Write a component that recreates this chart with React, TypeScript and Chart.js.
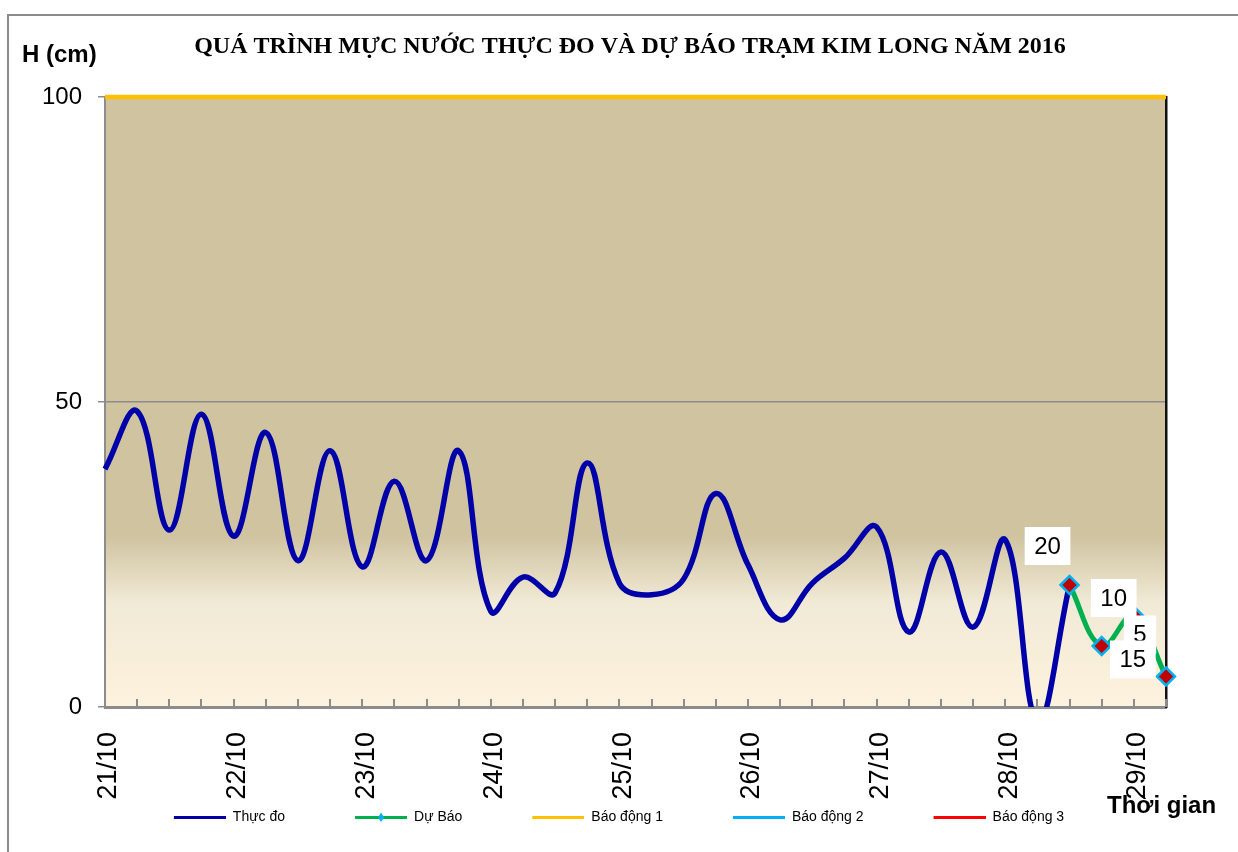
import React, { useEffect, useRef } from 'react';
import { Chart, registerables } from 'chart.js';

Chart.register(...registerables);

// ---------- DATA ----------
const categories = [
  '21/10 00h', '21/10 06h', '21/10 12h', '21/10 18h',
  '22/10 00h', '22/10 06h', '22/10 12h', '22/10 18h',
  '23/10 00h', '23/10 06h', '23/10 12h', '23/10 18h',
  '24/10 00h', '24/10 06h', '24/10 12h', '24/10 18h',
  '25/10 00h', '25/10 06h', '25/10 12h', '25/10 18h',
  '26/10 00h', '26/10 06h', '26/10 12h', '26/10 18h',
  '27/10 00h', '27/10 06h', '27/10 12h', '27/10 18h',
  '28/10 00h', '28/10 06h', '28/10 12h', '28/10 18h',
  '29/10 00h', '29/10 06h',
];

// Thực đo (measured), cm
const observed = [
  39, 48.5, 29, 48, 28, 45, 24, 42,
  23, 37, 24, 42, 15.7, 21.3, 18.7, 40,
  20.3, 18.4, 21, 35, 23.3, 14.3, 20.3, 24.4,
  29.5, 12.3, 25.4, 13.1, 27.4, -2.5, 20, null, null, null,
];

// Dự Báo (forecast), cm
const forecast = [
  null, null, null, null, null, null, null, null,
  null, null, null, null, null, null, null, null,
  null, null, null, null, null, null, null, null,
  null, null, null, null, null, null, 20, 10, 15, 5,
];

// Alarm levels (Báo động 1, 2, 3), cm
const alarmLevels = [100, 200, 350];

const yTicks = [0, 50, 100];

const seriesNames = ['Thực đo', 'Dự Báo', 'Báo động 1', 'Báo động 2', 'Báo động 3'];
const titleText = 'QUÁ TRÌNH MỰC NƯỚC THỰC ĐO VÀ DỰ BÁO TRẠM KIM LONG NĂM 2016';
const yTitle = 'H (cm)';
const xTitle = 'Thời gian';

// ---------- STYLE ----------
const COLORS = ['#0000A8', '#00B050', '#FFC000', '#00B0F0', '#FF0000'];
const SANS = "'Liberation Sans', Arial, sans-serif";
const SERIF = "'Liberation Serif', 'Times New Roman', serif";

// label placement offsets for forecast data labels
const labelOffsets: Record<number, [number, number]> = {
  30: [-22, -39],
  31: [12, -48],
  32: [-1, 44],
  33: [-26, -42],
};
const labelDrawOrder = [30, 31, 33, 32];

const ICON_GAP = 60; // transparent lead-in before each legend line
const ICON_LINE = 52;

function legendIcon(color: string, marker: boolean): HTMLCanvasElement {
  const c = document.createElement('canvas');
  c.width = ICON_GAP + ICON_LINE;
  c.height = 12;
  const g = c.getContext('2d')!;
  g.fillStyle = color;
  g.fillRect(ICON_GAP, 5, ICON_LINE, 3);
  if (marker) {
    const mx = ICON_GAP + ICON_LINE / 2;
    g.beginPath();
    g.moveTo(mx, 1.5);
    g.lineTo(mx + 3, 6.5);
    g.lineTo(mx, 11);
    g.lineTo(mx - 3, 6.5);
    g.closePath();
    g.fillStyle = '#00B0F0';
    g.fill();
  }
  return c;
}

const decorPlugin = {
  id: 'decor',
  beforeDraw(chart: any) {
    const { ctx, chartArea: a, width, height } = chart;
    ctx.save();
    ctx.fillStyle = '#ffffff';
    ctx.fillRect(0, 0, width, height);
    // outer frame
    ctx.strokeStyle = '#8C8C8C';
    ctx.lineWidth = 2;
    ctx.strokeRect(8, 15, width + 20, height + 20);
    // plot area gradient
    const g = ctx.createLinearGradient(0, a.top, 0, a.bottom);
    g.addColorStop(0, '#CFC3A0');
    g.addColorStop(0.72, '#CFC3A0');
    g.addColorStop(0.83, '#F1EAD6');
    g.addColorStop(1, '#FDF2DE');
    ctx.fillStyle = g;
    ctx.fillRect(a.left, a.top, a.right - a.left, a.bottom - a.top);
    ctx.restore();
  },
  beforeDatasetsDraw(chart: any) {
    const { ctx, chartArea: a } = chart;
    const xs = chart.scales.x;
    ctx.save();
    ctx.strokeStyle = '#8C8C8C';
    ctx.lineWidth = 2;
    ctx.beginPath();
    for (let i = 0; i < categories.length; i++) {
      const px = Math.round(xs.getPixelForValue(i));
      ctx.moveTo(px, a.bottom - 8);
      ctx.lineTo(px, a.bottom);
    }
    ctx.stroke();
    ctx.restore();
  },
  afterDatasetsDraw(chart: any) {
    const { ctx } = chart;
    const meta = chart.getDatasetMeta(1);
    ctx.save();
    ctx.font = `24px ${SANS}`;
    ctx.textAlign = 'center';
    ctx.textBaseline = 'middle';
    for (const idx of labelDrawOrder) {
      const v = forecast[idx];
      const el = meta.data[idx];
      if (v == null || !el) continue;
      const [dx, dy] = labelOffsets[idx];
      const cx = el.x + dx;
      const cy = el.y + dy;
      const txt = String(v);
      const w = ctx.measureText(txt).width + 19;
      const h = 38;
      ctx.fillStyle = '#ffffff';
      ctx.fillRect(cx - w / 2, cy - h / 2, w, h);
      ctx.fillStyle = '#000000';
      ctx.fillText(txt, cx, cy + 1);
    }
    ctx.restore();
  },
  afterDraw(chart: any) {
    const { ctx } = chart;
    ctx.save();
    ctx.fillStyle = '#000000';
    ctx.textBaseline = 'middle';
    ctx.textAlign = 'center';
    ctx.font = `bold 24px ${SERIF}`;
    ctx.fillText(titleText, 630, 47);
    ctx.textAlign = 'left';
    ctx.font = `bold 24px ${SANS}`;
    ctx.fillText(yTitle, 22, 55);
    ctx.fillText(xTitle, 1107, 806);
    ctx.restore();
  },
};

export default function App() {
  const ref = useRef<HTMLCanvasElement | null>(null);

  useEffect(() => {
    document.body.style.margin = '0';
    document.body.style.overflow = 'hidden';
    const canvas = ref.current;
    if (!canvas) return;
    const icons = COLORS.map((c, i) => legendIcon(c, i === 1));

    const alarmData = (lvl: number) => [
      { x: categories[0], y: lvl },
      { x: categories[categories.length - 1], y: lvl },
    ];

    const chart = new Chart(canvas, {
      type: 'line',
      data: {
        labels: categories,
        datasets: [
          {
            label: seriesNames[0],
            data: observed,
            borderColor: COLORS[0],
            backgroundColor: COLORS[0],
            borderWidth: 5.5,
            pointRadius: 0,
            tension: 0.4,
            spanGaps: false,
            order: 1,
          },
          {
            label: seriesNames[1],
            data: forecast,
            borderColor: COLORS[1],
            backgroundColor: COLORS[1],
            borderWidth: 5,
            pointStyle: 'rectRot',
            pointRadius: 9,
            pointBackgroundColor: '#C00000',
            pointBorderColor: '#00B0F0',
            pointBorderWidth: 2.5,
            tension: 0.4,
            clip: 12,
            order: 0,
          },
          ...alarmLevels.map((lvl, k) => ({
            label: seriesNames[2 + k],
            data: alarmData(lvl) as any,
            borderColor: COLORS[2 + k],
            backgroundColor: COLORS[2 + k],
            borderWidth: 4.5,
            pointRadius: 0,
            tension: 0,
            clip: 4,
            order: 2,
          })),
        ],
      },
      options: {
        responsive: false,
        animation: false,
        events: [],
        layout: { padding: { top: 97, left: 0, right: ICON_GAP, bottom: 18 } },
        plugins: {
          title: { display: false },
          tooltip: { enabled: false },
          legend: {
            display: true,
            position: 'bottom',
            labels: {
              usePointStyle: true,
              pointStyleWidth: ICON_GAP + ICON_LINE,
              padding: 10,
              color: '#000000',
              font: { family: SANS, size: 14 },
              sort: (a: any, b: any) => a.datasetIndex - b.datasetIndex,
              generateLabels: (ch: any) => {
                const items = (Chart.defaults.plugins.legend.labels.generateLabels as any)(ch);
                items.forEach((it: any) => {
                  it.pointStyle = icons[it.datasetIndex];
                });
                return items;
              },
            },
          },
        },
        scales: {
          x: {
            type: 'category',
            offset: false,
            grid: { display: false },
            border: { display: true, color: '#8C8C8C', width: 3 },
            ticks: {
              autoSkip: false,
              maxRotation: 90,
              minRotation: 90,
              padding: 17,
              labelOffset: 4,
              color: '#000000',
              font: { family: SANS, size: 27 },
              callback: (_v: any, i: number) =>
                categories[i].endsWith('00h') ? categories[i].slice(0, 5) : '',
            },
            afterFit: (s: any) => {
              s.height = 93;
            },
          },
          y: {
            type: 'linear',
            position: 'left',
            min: yTicks[0],
            max: yTicks[yTicks.length - 1],
            afterBuildTicks: (s: any) => {
              s.ticks = yTicks.map((v) => ({ value: v }));
            },
            grid: { color: '#8C8C8C', lineWidth: 1.5, tickLength: 7, drawTicks: true },
            border: { display: true, color: '#8C8C8C', width: 2 },
            ticks: {
              padding: 16,
              color: '#000000',
              font: { family: SANS, size: 24 },
            },
            afterFit: (s: any) => {
              s.width = 105;
            },
          },
          y2: {
            type: 'linear',
            position: 'right',
            min: 0,
            max: 100,
            grid: { display: false, drawOnChartArea: false },
            border: { display: true, color: '#111111', width: 2.5 },
            ticks: { display: false },
            afterFit: (s: any) => {
              s.width = 72 - ICON_GAP;
            },
          },
        },
      },
      plugins: [decorPlugin],
    } as any);

    return () => chart.destroy();
  }, []);

  return <canvas ref={ref} width={1238} height={852} style={{ display: 'block' }} />;
}
